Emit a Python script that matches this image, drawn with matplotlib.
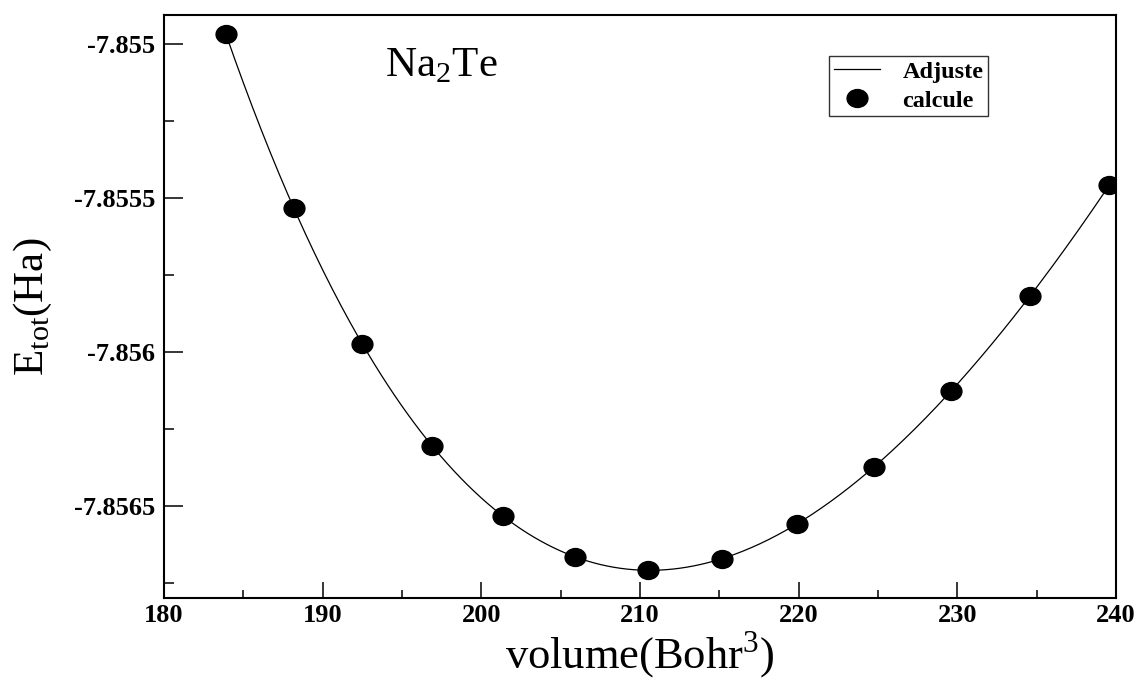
import numpy as np
import matplotlib
matplotlib.use("Agg")
import matplotlib.pyplot as plt
from matplotlib.path import Path
from matplotlib.transforms import Affine2D
from matplotlib.ticker import MultipleLocator

# 計算点 (Bohr^3, Ha)
volume = np.array([183.9, 188.17, 192.5, 196.9, 201.36, 205.9, 210.5,
                   215.16, 219.9, 224.74, 229.63, 234.57, 239.59])
energy = np.array([-7.854967, -7.855531, -7.855974, -7.856306, -7.856534,
                   -7.856666, -7.85671, -7.856672, -7.856558, -7.856375,
                   -7.856126, -7.855819, -7.855457])

xtick_vals = [180, 190, 200, 210, 220, 230, 240]
ytick_vals = [-7.855, -7.8555, -7.856, -7.8565]
ytick_labels = ["-7.855", "-7.8555", "-7.856", "-7.8565"]

plt.rcParams['font.family'] = ['Liberation Serif', 'DejaVu Serif']
plt.rcParams['mathtext.fontset'] = 'custom'
plt.rcParams['mathtext.rm'] = 'Liberation Serif'

# Birch-Murnaghan 型の近似 (E は V^(-2/3) の3次式)
coef = np.polyfit(volume ** (-2.0 / 3.0), energy, 3)
v_fit = np.linspace(volume.min(), volume.max(), 400)
e_fit = np.polyval(coef, v_fit ** (-2.0 / 3.0))

# 少し横長の丸マーカー
circ = Path.unit_circle()
ellipse = Path(Affine2D().scale(1.0, 0.86).transform(circ.vertices), circ.codes)

fig = plt.figure(figsize=(11.41, 6.86), dpi=100)
ax = fig.add_axes([164 / 1141, 1 - 598 / 686, 952 / 1141, 583 / 686])

ax.plot(v_fit, e_fit, color='black', lw=0.9, label='Adjuste')
ax.plot(volume, energy, linestyle='none', marker=ellipse, markersize=15,
        color='black', label='calcule')

ax.set_xlim(180, 240)
ax.set_ylim(-7.8568, -7.854905)
ax.set_xticks(xtick_vals)
ax.set_xticklabels([str(v) for v in xtick_vals])
ax.set_yticks(ytick_vals)
ax.set_yticklabels(ytick_labels)
ax.xaxis.set_minor_locator(MultipleLocator(5))
ax.yaxis.set_minor_locator(MultipleLocator(0.00025))

ax.tick_params(axis='y', which='major', direction='in', length=13.5, width=1.1, pad=6.5)
ax.tick_params(axis='y', which='minor', direction='in', length=7, width=1.1)
ax.tick_params(axis='x', which='major', direction='in', length=11.5, width=1.1, pad=4)
ax.tick_params(axis='x', which='minor', direction='in', length=6, width=1.1)
for lab in ax.get_xticklabels() + ax.get_yticklabels():
    lab.set_fontsize(19)
    lab.set_fontweight('bold')
for sp in ax.spines.values():
    sp.set_linewidth(1.5)

ax.set_xlabel(r'volume(Bohr$^{3}$)', fontsize=32, labelpad=2)
ax.set_ylabel(r'E$_{\mathrm{tot}}$(Ha)', fontsize=31, labelpad=14)

ax.text(0.232, 0.895, r'Na$_{2}$Te', transform=ax.transAxes, fontsize=31)

leg = ax.legend(loc='upper left', bbox_to_anchor=(0.699, 0.93), frameon=True,
                fancybox=False, edgecolor='black', prop={'weight': 'bold', 'size': 17.5},
                handlelength=1.9, handletextpad=0.9, borderpad=0.2, labelspacing=0.28,
                borderaxespad=0)
leg.get_frame().set_linewidth(1.0)

fig.savefig('out.png', dpi=100)
